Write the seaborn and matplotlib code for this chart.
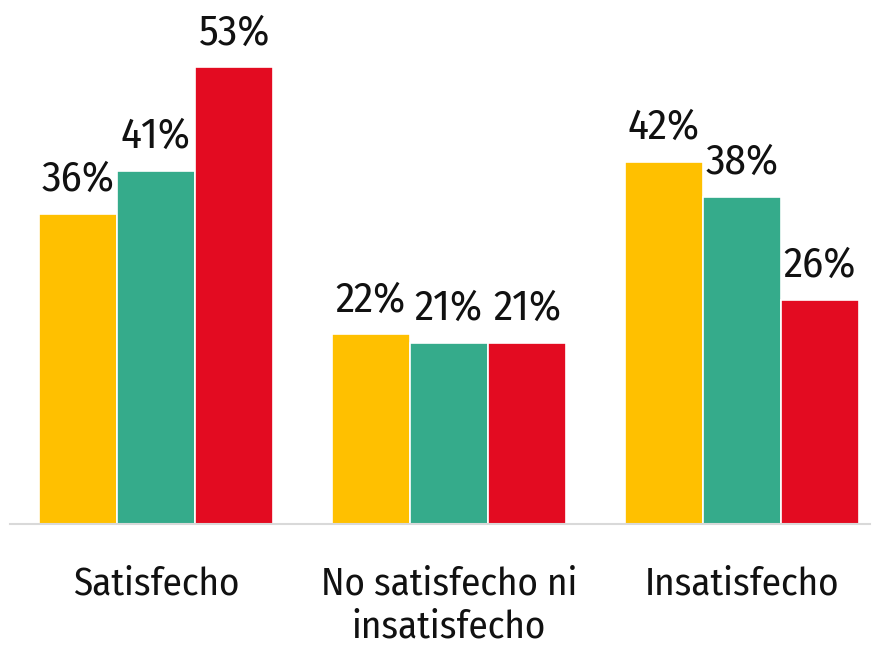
import matplotlib
matplotlib.use('Agg')
import matplotlib.pyplot as plt
import seaborn as sns
import pandas as pd

categorias = ['Satisfecho', 'No satisfecho ni\ninsatisfecho', 'Insatisfecho']
series = ['Serie A', 'Serie B', 'Serie C']
serie_a = [36, 22, 42]
serie_b = [41, 21, 38]
serie_c = [53, 21, 26]
colores = ['#FFC000', '#35AB8B', '#E30B21']

rows = []
for s, vals in zip(series, [serie_a, serie_b, serie_c]):
	for c, v in zip(categorias, vals):
		rows.append({'categoria': c, 'serie': s, 'valor': v})
df = pd.DataFrame(rows)

sns.set_style('white')
plt.rcParams['font.family'] = ['Fira Sans Condensed', 'DejaVu Sans']

fig = plt.figure(figsize=(8.81, 6.47), dpi=100)
ax = fig.add_axes([10/881, 123/647, 860/881, 524/647])
sns.barplot(data=df, x='categoria', y='valor', hue='serie', order=categorias,
	hue_order=series, palette=colores, width=0.8, edgecolor='white',
	linewidth=1.2, saturation=1, legend=False, ax=ax)

for cont in ax.containers:
	ax.bar_label(cont, labels=['%d%%' % v for v in cont.datavalues],
		padding=10, fontsize=31, color='#111111')

ax.set_xlim(-0.498, 2.437)
ax.set_ylim(0, 60.8)
ax.set_xlabel('')
ax.set_ylabel('')
ax.set_yticks([])
for s in ['top', 'right', 'left']:
	ax.spines[s].set_visible(False)
ax.spines['bottom'].set_color('#D9D9D9')
ax.spines['bottom'].set_linewidth(1.5)
ax.tick_params(axis='x', length=0, pad=30, labelsize=28, labelcolor='#111111')

fig.savefig('out.png', dpi=100)
